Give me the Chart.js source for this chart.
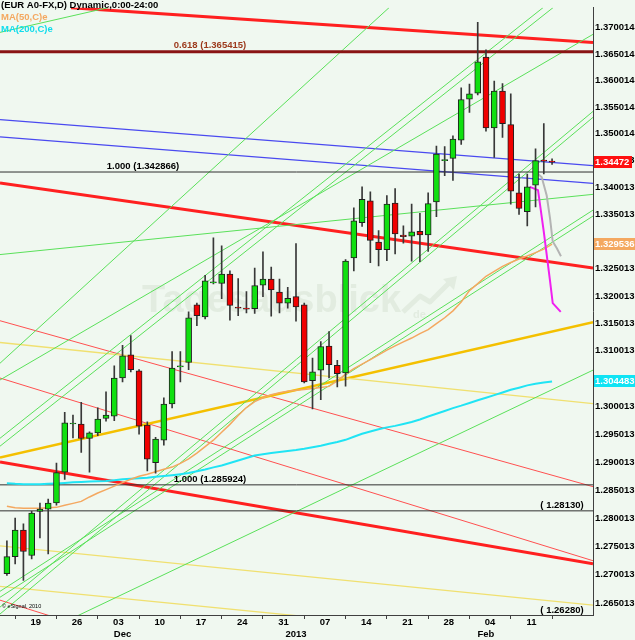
<!DOCTYPE html>
<html><head><meta charset="utf-8">
<script src="https://cdn.jsdelivr.net/npm/chart.js@4.4.1/dist/chart.umd.min.js"></script>
<style>html,body{margin:0;padding:0;background:#f0f8f0;overflow:hidden}canvas{display:block}</style>
</head><body>
<canvas id="c" width="635" height="640"></canvas>
<script>
// ---------- DATA ----------
const sessionDates = [
 '2012-11-13','2012-11-14','2012-11-15','2012-11-16','2012-11-19','2012-11-20','2012-11-21','2012-11-22','2012-11-23',
 '2012-11-26','2012-11-27','2012-11-28','2012-11-29','2012-11-30',
 '2012-12-03','2012-12-04','2012-12-05','2012-12-06','2012-12-07','2012-12-10','2012-12-11','2012-12-12','2012-12-13','2012-12-14',
 '2012-12-17','2012-12-18','2012-12-19','2012-12-20','2012-12-21','2012-12-24','2012-12-25','2012-12-26','2012-12-27','2012-12-28',
 '2012-12-31','2013-01-01','2013-01-02','2013-01-03','2013-01-04','2013-01-07','2013-01-08','2013-01-09','2013-01-10','2013-01-11',
 '2013-01-14','2013-01-15','2013-01-16','2013-01-17','2013-01-18','2013-01-21','2013-01-22','2013-01-23','2013-01-24','2013-01-25',
 '2013-01-28','2013-01-29','2013-01-30','2013-01-31','2013-02-01','2013-02-04','2013-02-05','2013-02-06','2013-02-07','2013-02-08',
 '2013-02-11','2013-02-12','2013-02-13'];
const openP  = [1.2702,1.2732,1.2779,1.2734,1.2812,1.2816,1.2827,1.2882,1.2968,1.2968,1.2942,1.2952,1.2978,1.2982,1.3051,1.3093,1.3064,1.2966,1.2899,1.2939,1.3004,1.3071,1.3079,1.3184,1.3162,1.3224,1.3223,1.3240,1.3180,1.3178,1.3177,1.3220,1.3231,1.3207,1.3187,1.3199,1.3184,1.3046,1.3065,1.3109,1.3074,1.3060,1.3270,1.3335,1.3375,1.3299,1.3285,1.3371,1.3312,1.3310,1.3319,1.3312,1.3373,1.3450,1.3454,1.3488,1.3565,1.3576,1.3644,1.3511,1.3580,1.3517,1.3390,1.3355,1.3404,1.3450,1.3449];
const highP  = [1.2760,1.2800,1.2790,1.2812,1.2827,1.2834,1.2898,1.2989,1.2984,1.3007,1.2954,1.2997,1.3026,1.3073,1.3110,1.3128,1.3066,1.2972,1.2944,1.3015,1.3099,1.3099,1.3171,1.3187,1.3238,1.3307,1.3292,1.3246,1.3232,1.3208,1.3251,1.3281,1.3253,1.3231,1.3216,1.3296,1.3187,1.3087,1.3117,1.3135,1.3083,1.3267,1.3362,1.3401,1.3392,1.3320,1.3385,1.3398,1.3329,1.3369,1.3352,1.3390,1.3477,1.3476,1.3496,1.3586,1.3593,1.3710,1.3658,1.3599,1.3594,1.3575,1.3425,1.3425,1.3472,1.3519,1.3453];
const lowP   = [1.2699,1.2719,1.2690,1.2728,1.2765,1.2737,1.2823,1.2869,1.2943,1.2917,1.2882,1.2947,1.2973,1.2974,1.3044,1.3062,1.2950,1.2884,1.2880,1.2930,1.2997,1.3044,1.3066,1.3146,1.3158,1.3222,1.3195,1.3156,1.3164,1.3169,1.3168,1.3199,1.3163,1.3169,1.3178,1.3154,1.3042,1.2995,1.3012,1.3051,1.3035,1.3036,1.3246,1.3328,1.3261,1.3255,1.3265,1.3277,1.3297,1.3264,1.3263,1.3282,1.3346,1.3422,1.3413,1.3480,1.3540,1.3573,1.3505,1.3456,1.3493,1.3369,1.3350,1.3329,1.3364,1.3425,1.3443];
const closeP = [1.2732,1.2779,1.2741,1.2809,1.2816,1.2827,1.2881,1.2970,1.2969,1.2942,1.2952,1.2977,1.2984,1.3051,1.3091,1.3066,1.2964,1.2905,1.2941,1.3004,1.3069,1.3073,1.3160,1.3164,1.3228,1.3225,1.3240,1.3183,1.3178,1.3176,1.3219,1.3231,1.3211,1.3187,1.3196,1.3180,1.3044,1.3062,1.3108,1.3075,1.3059,1.3264,1.3338,1.3378,1.3302,1.3285,1.3369,1.3314,1.3309,1.3318,1.3312,1.3370,1.3462,1.3451,1.3490,1.3564,1.3575,1.3635,1.3511,1.3580,1.3519,1.3393,1.3361,1.3401,1.3450,1.3449,1.34472];
const ma50 = [1.28210,1.28184,1.28175,1.28175,1.28178,1.28184,1.28192,1.28228,1.28263,1.28298,
 1.28377,1.28447,1.28508,1.28570,1.28631,1.28693,1.28746,1.28781,1.28825,1.28869,
 1.28909,1.28975,1.29054,1.29160,1.29275,1.29390,1.29532,1.29674,1.29834,1.29976,
 1.30082,1.30153,1.30207,1.30242,1.30269,1.30287,1.30301,1.30322,1.30340,1.30358,
 1.30457,1.30581,1.30680,1.30760,1.30841,1.30930,1.31015,1.31091,1.31163,1.31234,
 1.31315,1.31387,1.31495,1.31603,1.31729,1.31891,1.32099,1.32226,1.32362,1.32452,
 1.32543,1.32615,1.32678,1.32733,1.32796,1.32860,1.329536];
const ma200 = [1.28619,1.28610,1.28605,1.28601,1.28605,1.28610,1.28617,1.28626,1.28637,1.28645,
 1.28651,1.28656,1.28661,1.28675,1.28690,1.28700,1.28711,1.28720,1.28735,1.28749,
 1.28765,1.28783,1.28804,1.28834,1.28865,1.28904,1.28939,1.28983,1.29027,1.29072,
 1.29116,1.29137,1.29160,1.29178,1.29196,1.29213,1.29236,1.29263,1.29289,1.29325,
 1.29359,1.29397,1.29452,1.29505,1.29546,1.29585,1.29620,1.29647,1.29682,1.29718,
 1.29762,1.29816,1.29864,1.29914,1.29967,1.30011,1.30059,1.30109,1.30153,1.30200,
 1.30249,1.30296,1.30335,1.30376,1.30407,1.30428,1.304483];
const projMagenta = [[63.3,1.3401],[64.3,1.3395],[65.0,1.3318],[65.35,1.3276],[65.75,1.3228],[66.08,1.3187],[67.05,1.3171]];
const projGray = [[63.7,1.3413],[64.3,1.3425],[64.75,1.3419],[65.35,1.3385],[65.75,1.3343],[66.08,1.3300],[66.56,1.3288],[67.08,1.3273]];

// trend lines: [session index, price]
const redTopLine  = [[7.76,1.37378],[70.956,1.36718]];
const redMidLine  = [[-0.835,1.34083],[70.956,1.32515]];
const redLowLine  = [[-0.835,1.29001],[70.956,1.27196]];
const redThinA    = [[-0.835,1.31549],[70.956,1.28560]];
const redThinB    = [[-0.835,1.30509],[70.956,1.27248]];
const redThinC    = [[-0.835,1.26555],[6.43,1.26225]];
const blueLineA   = [[-0.835,1.35264],[70.956,1.34404]];
const blueLineB   = [[-0.835,1.34942],[70.956,1.34074]];
const goldLine    = [[-0.835,1.29080],[70.956,1.31520]];
const yellowA     = [[-0.835,1.31153],[70.956,1.30046]];
const yellowB     = [[-0.835,1.27510],[70.956,1.26467]];
const yellowC     = [[-0.835,1.26797],[35.48,1.26277]];
const greenSteep  = [[-0.835,1.30777],[46.26,1.37378]];
const greenPeakA  = [[-0.835,1.29425],[64.90,1.37378]];
const greenPeakB  = [[-0.835,1.29283],[66.11,1.37378]];
const greenRightA = [[-0.835,1.26433],[70.956,1.35419]];
const greenRightB = [[-0.835,1.26312],[70.956,1.35308]];
const greenMidA   = [[-0.835,1.26710],[70.956,1.33580]];
const greenMidB   = [[-0.835,1.26606],[70.956,1.33470]];
const greenLow    = [[8.49,1.26277],[70.956,1.30652]];
const greenTop    = [[-0.835,1.30474],[70.956,1.36872]];
const greenFlat   = [[-0.835,1.32760],[70.956,1.33872]];
const greenCorner = [[-0.835,1.36909],[12.24,1.37378]];

// horizontal levels
const levelValues = [1.365415, 1.342866, 1.285924, 1.28130, 1.26280];
const levelTexts  = ['0.618 (1.365415)', '1.000 (1.342866)', '1.000 (1.285924)', '( 1.28130)', '( 1.26280)'];

const yTickLabels = ['1.265013','1.270013','1.275013','1.280013','1.285013','1.290013','1.295013','1.300013','1.305013','1.310013','1.315013','1.320013','1.325013','1.330013','1.335013','1.340013','1.345013','1.350014','1.355014','1.360014','1.365014','1.370014'];
const weekTickLabels = ['19','26','03','10','17','24','31','07','14','21','28','04','11'];
const monthLabels = ['Dec','2013','Feb'];
const valueBoxTexts = ['1.34472','1.329536','1.304483'];

// ---------- SCALE RANGE ----------
const X_MIN = -0.835, X_MAX = 70.956;
const Y_MIN = 1.26295, Y_MAX = 1.37378;

// derived tick positions
const mondayIdx = sessionDates.map((d,i)=>[new Date(d+'T12:00:00Z').getUTCDay(), i]).filter(a=>a[0]===1).map(a=>a[1]-0.5);
const monthIdx = [];
sessionDates.forEach((d,i)=>{ if(i>0 && d.slice(5,7)!==sessionDates[i-1].slice(5,7)) monthIdx.push(i); });

const toXY = arr => arr.map(p=>({x:p[0], y:p[1]}));
function lineDs(points, color, width, order){
  return {type:'line', xAxisID:'x', yAxisID:'y', data: toXY(points), borderColor: color, borderWidth: width,
          pointRadius:0, pointHoverRadius:0, fill:false, tension:0, order};
}
const GREEN='#5ae05a', RED='#ff2020', REDTHIN='#ff5050', BLUE='#4a4af0', GOLD='#f4c000', YEL='#f0e070';
const datasets = [
  lineDs(greenSteep,GREEN,1,6), lineDs(greenPeakA,GREEN,1,6), lineDs(greenPeakB,GREEN,1,6),
  lineDs(greenRightA,GREEN,1,6), lineDs(greenRightB,GREEN,1,6), lineDs(greenMidA,GREEN,1,6), lineDs(greenMidB,GREEN,1,6),
  lineDs(greenLow,GREEN,1,6), lineDs(greenTop,GREEN,1,6), lineDs(greenFlat,GREEN,1,6), lineDs(greenCorner,GREEN,1,6),
  lineDs(yellowA,YEL,1.3,6), lineDs(yellowB,YEL,1.3,6), lineDs(yellowC,YEL,1.3,6), lineDs(goldLine,GOLD,2.5,6),
  lineDs(redThinA,REDTHIN,1,6), lineDs(redThinB,REDTHIN,1,6), lineDs(redThinC,REDTHIN,1,6),
  lineDs(redTopLine,RED,3,6), lineDs(redMidLine,RED,3,6), lineDs(redLowLine,RED,3,6),
  lineDs(blueLineA,BLUE,1.3,6), lineDs(blueLineB,BLUE,1.3,6),
  lineDs([[X_MIN,levelValues[0]],[X_MAX,levelValues[0]]],'#8a1414',3,5),
  lineDs([[X_MIN,levelValues[1]],[X_MAX,levelValues[1]]],'#303030',1,5),
  lineDs([[X_MIN,levelValues[2]],[X_MAX,levelValues[2]]],'#303030',1,5),
  lineDs([[X_MIN,levelValues[3]],[X_MAX,levelValues[3]]],'#303030',1,5),
  lineDs([[X_MIN,levelValues[4]],[X_MAX,levelValues[4]]],'#303030',1,5),
  {type:'line', xAxisID:'x', yAxisID:'y', data: ma50.map((v,i)=>({x:i,y:v})), borderColor:'#f4a860', borderWidth:1.5, pointRadius:0, tension:0, order:3},
  {type:'line', xAxisID:'x', yAxisID:'y', data: ma200.map((v,i)=>({x:i,y:v})), borderColor:'#20e4f4', borderWidth:2, pointRadius:0, tension:0, order:3},
  lineDs(projGray,'#b4b4b4',2,2),
  lineDs(projMagenta,'#f020f0',2,2),
  {type:'bar', xAxisID:'x', yAxisID:'y', grouped:false, order:1, barThickness:1,
   data: lowP.map((l,i)=>({x:i, y:[l, highP[i]]})), backgroundColor:'#383838', borderWidth:0},
  {type:'bar', xAxisID:'x', yAxisID:'y', grouped:false, order:0, barThickness:6, minBarLength:1,
   data: openP.map((o,i)=>({x:i, y:[o, closeP[i]]})),
   backgroundColor: openP.map((o,i)=> closeP[i]>=o ? '#10e010' : '#f00000'),
   borderColor:'#202020', borderWidth:1, borderSkipped:false}
];

const F = 'Liberation Sans, Arial, sans-serif';
const overlay = {
  id:'overlay',
  beforeDraw(chart){
    const {ctx,width,height} = chart;
    ctx.save(); ctx.fillStyle='#f0f8f0'; ctx.fillRect(0,0,width,height); ctx.restore();
  },
  beforeDatasetsDraw(chart){
    const ctx = chart.ctx;
    ctx.save();
    ctx.fillStyle='#e2ece0'; ctx.strokeStyle='#e2ece0';
    ctx.font='bold 38px '+F; ctx.textBaseline='alphabetic'; ctx.textAlign='left';
    ctx.fillText('Tagesausblick',142,312);
    ctx.font='bold 11px '+F; ctx.fillText('de',413,318);
    ctx.lineWidth=5; ctx.lineJoin='round';
    ctx.beginPath(); ctx.moveTo(403,312); ctx.lineTo(420,296); ctx.lineTo(430,302); ctx.lineTo(450,282); ctx.stroke();
    ctx.beginPath(); ctx.moveTo(457,276); ctx.lineTo(443,279); ctx.lineTo(454,290); ctx.closePath(); ctx.fill();
    ctx.restore();
  },
  afterDatasetsDraw(chart){
    const ctx = chart.ctx, ys = chart.scales.y;
    ctx.save();
    ctx.textBaseline='bottom'; ctx.textAlign='center';
    ctx.font='bold 9.5px '+F;
    const cx = [210,143,210,562,562];
    levelTexts.forEach((t,i)=>{
      ctx.fillStyle = i===0 ? '#9c3a1c' : '#000000';
      const y = ys.getPixelForValue(levelValues[i]);
      ctx.fillText(t, cx[i], y - (i===0?2:1));
    });
    ctx.textAlign='left'; ctx.textBaseline='middle';
    ctx.font='bold 9.5px '+F;
    ctx.fillStyle='#000'; ctx.fillText('(EUR A0-FX,D) Dynamic,0:00-24:00',1,5);
    ctx.fillStyle='#f4a860'; ctx.fillText('MA(50,C)e',1,17);
    ctx.fillStyle='#10dcec'; ctx.fillText('MA(200,C)e',1,29);
    ctx.font='5.5px '+F; ctx.fillStyle='#000'; ctx.fillText('\u00a9 eSignal, 2010',2,606);
    ctx.restore();
  },
  afterDraw(chart){
    const ctx = chart.ctx, ys = chart.scales.y;
    const vals = [closeP[closeP.length-1], ma50[ma50.length-1], ma200[ma200.length-1]];
    const cols = ['#ff1010','#f4a860','#10e4f4'];
    const wid = [38,41,41];
    ctx.save();
    ctx.font='bold 9.5px '+F; ctx.textBaseline='middle'; ctx.textAlign='left';
    vals.forEach((v,i)=>{
      const y = Math.round(ys.getPixelForValue(v));
      ctx.fillStyle=cols[i]; ctx.fillRect(594,y-6,wid[i],12);
      ctx.fillStyle='#ffffff'; ctx.fillText(valueBoxTexts[i],595,y+0.5);
    });
    ctx.restore();
  }
};

new Chart(document.getElementById('c'), {
  type:'line',
  data:{datasets},
  options:{
    responsive:false, animation:false, devicePixelRatio:1,
    layout:{padding:0},
    events:[],
    plugins:{legend:{display:false}, tooltip:{enabled:false}},
    scales:{
      x:{type:'linear', position:'bottom', min:X_MIN, max:X_MAX, offset:false,
         grid:{display:true, drawOnChartArea:false, drawTicks:true, tickLength:4, color:'#404040'},
         border:{display:true, color:'#404040', width:1},
         afterBuildTicks:s=>{ s.ticks = mondayIdx.map(v=>({value:v})); },
         afterFit:s=>{ s.height = 13; },
         ticks:{autoSkip:false, maxRotation:0, padding:-2, color:'#000', font:{family:F, size:9.5, weight:'bold'},
                callback:(v,i)=>weekTickLabels[i]}},
      x2:{type:'linear', position:'bottom', min:X_MIN, max:X_MAX, offset:false,
         grid:{display:false, drawTicks:false}, border:{display:false},
         afterBuildTicks:s=>{ s.ticks = monthIdx.map(v=>({value:v})); },
         afterFit:s=>{ s.height = 12; },
         ticks:{autoSkip:false, maxRotation:0, padding:1, color:'#000', font:{family:F, size:9.5, weight:'bold'},
                callback:(v,i)=>monthLabels[i]}},
      y:{type:'logarithmic', position:'right', min:Y_MIN, max:Y_MAX,
         grid:{display:false, drawTicks:false},
         border:{display:true, color:'#404040', width:1},
         afterBuildTicks:s=>{ s.ticks = yTickLabels.map(t=>({value:parseFloat(t)})); },
         afterFit:s=>{ s.width = 42; },
         ticks:{autoSkip:false, padding:2, color:'#000', font:{family:F, size:9.5, weight:'bold'},
                callback:(v,i)=>yTickLabels[i]}}
    }
  },
  plugins:[overlay]
});
</script>
</body></html>
